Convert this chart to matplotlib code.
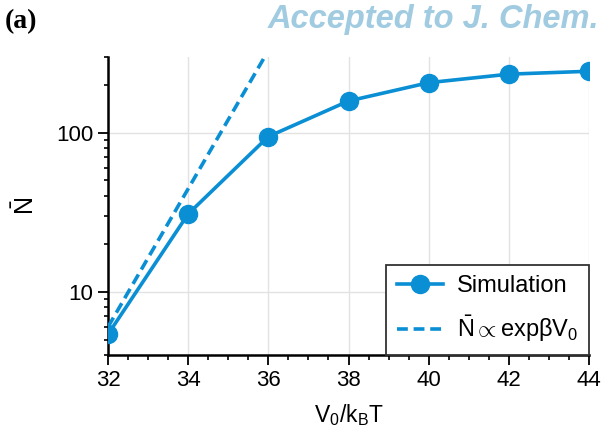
import matplotlib
matplotlib.use("Agg")
import matplotlib.pyplot as plt
from matplotlib.ticker import MultipleLocator, LogLocator, FixedLocator, NullFormatter

plt.rcParams['font.family'] = ['Liberation Sans', 'DejaVu Sans']
plt.rcParams['mathtext.fontset'] = 'custom'
plt.rcParams['mathtext.rm'] = 'Liberation Sans'
plt.rcParams['mathtext.it'] = 'Liberation Sans:italic'
plt.rcParams['mathtext.bf'] = 'Liberation Sans:bold'

# data
v0 = [32, 34, 36, 38, 40, 42, 44]
n_sim = [5.4, 30.8, 94.4, 158, 206, 233, 243]
v0_fit = [32, 36]
n_fit = [6.0, 328]
xticks = [32, 34, 36, 38, 40, 42, 44]
yticks = [10, 100]

blue = '#0a8fd4'

fig = plt.figure(figsize=(6.05, 4.29), dpi=100)
W, H = 605, 429
ax = fig.add_axes([108 / W, (H - 355) / H, (589 - 108) / W, (355 - 56.7) / H])

ax.plot(v0, n_sim, '-o', color=blue, lw=2.6, ms=13, label='Simulation', zorder=3)
ax.plot(v0_fit, n_fit, '--', color=blue, lw=2.6, dashes=(3.0, 1.6),
        label=r'$\bar{\mathrm{N}}\propto\mathrm{exp}\mathrm{β}\mathrm{V}_0$', zorder=3)

ax.set_yscale('log')
ax.set_xlim(32, 44)
ax.set_ylim(4, 300)
ax.set_xticks(xticks)
ax.set_xticklabels([str(t) for t in xticks])
ax.xaxis.set_minor_locator(MultipleLocator(0.5))
ax.yaxis.set_major_locator(FixedLocator(yticks))
ax.set_yticklabels([str(t) for t in yticks])
ax.yaxis.set_minor_locator(LogLocator(base=10, subs=range(2, 10)))
ax.yaxis.set_minor_formatter(NullFormatter())

ax.grid(True, which='major', color='#e2e2e2', lw=1.0, zorder=0)
ax.set_axisbelow(True)
for s in ['top', 'right']:
    ax.spines[s].set_visible(False)
for s in ['left', 'bottom']:
    ax.spines[s].set_linewidth(1.8)
    ax.spines[s].set_color('black')

ax.tick_params(which='major', direction='out', length=7.5, width=1.3, labelsize=16, pad=3)
ax.tick_params(axis='x', which='minor', direction='out', length=3.8, width=1.2)
ax.tick_params(axis='y', which='minor', direction='out', length=3.2, width=1.2)

ax.set_xlabel(r'$\mathrm{V_0/k_BT}$', fontsize=16.5, labelpad=8)
ax.set_ylabel(r'$\bar{\mathrm{N}}$', fontsize=18, labelpad=12)

leg = ax.legend(loc='lower right', bbox_to_anchor=(1.0, 0.0), borderaxespad=0,
                fancybox=False, framealpha=1, edgecolor='#333333', fontsize=17,
                handlelength=1.95, handletextpad=0.6, labelspacing=0.7,
                borderpad=0.45, markerscale=1.0)
leg.get_frame().set_linewidth(1.3)

fig.text(5 / W, 1 - 22 / H, '(a)', fontsize=20, fontweight='bold',
         family='Liberation Serif', va='center', ha='left')
fig.text(268 / W, 1 - 28 / H, 'Accepted to J. Chem. Phys.', fontsize=23.5,
         fontweight='bold', style='italic', color='#a0cbe0', va='baseline', ha='left')

fig.savefig('out.png', dpi=100)
